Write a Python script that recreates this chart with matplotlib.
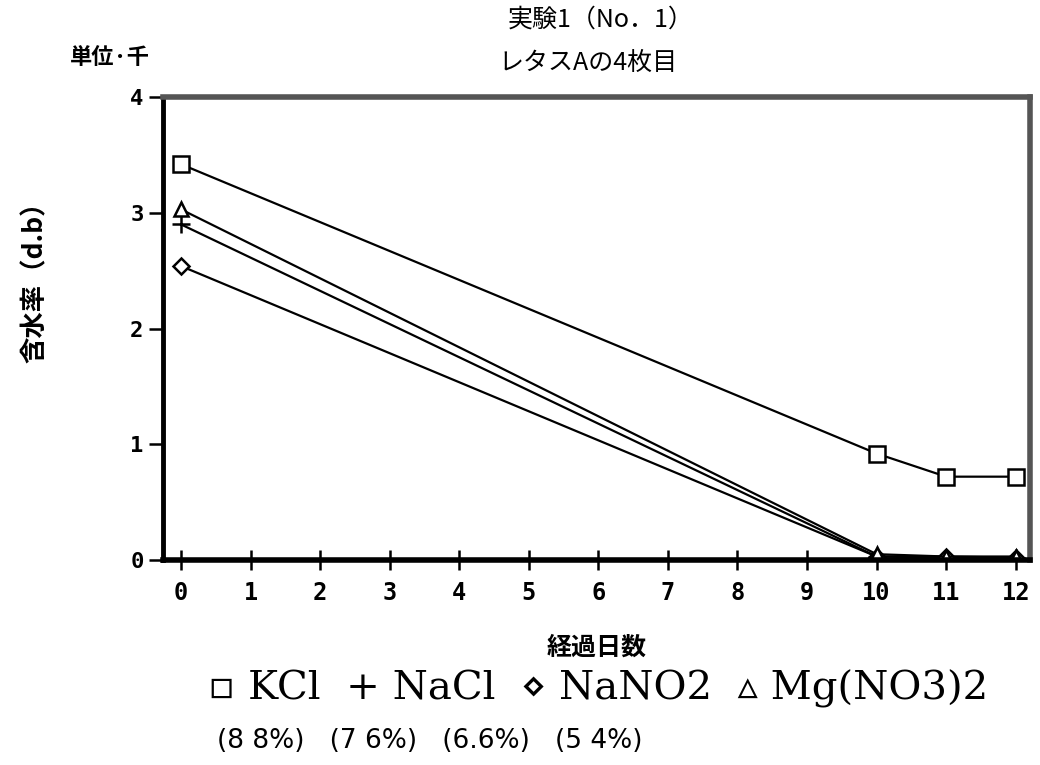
import matplotlib
matplotlib.use("Agg")
import matplotlib.pyplot as plt

plt.rcParams['font.family'] = ['Noto Sans CJK JP', 'DejaVu Sans']

days = [0, 10, 11, 12]
kcl = [3.42, 0.92, 0.72, 0.72]
nacl = [2.90, 0.03, 0.02, 0.02]
nano2 = [2.54, 0.03, 0.03, 0.02]
mgno3 = [3.03, 0.05, 0.03, 0.03]

x_ticks = list(range(0, 13))
y_ticks = [0, 1, 2, 3, 4]

fig = plt.figure(figsize=(10.4, 7.65), dpi=100)
ax = fig.add_axes([0.1567, 0.268, 0.8333, 0.605])

ax.plot(days, kcl, color="black", lw=1.6, marker="s", ms=11, mfc="white", mec="black", mew=1.8)
ax.plot(days, nacl, color="black", lw=1.6, marker="+", ms=13, mew=1.8)
ax.plot(days, nano2, color="black", lw=1.6, marker="D", ms=8, mfc="white", mec="black", mew=1.8)
ax.plot(days, mgno3, color="black", lw=1.6, marker="^", ms=10, mfc="white", mec="black", mew=1.8)

ax.set_xlim(-0.26, 12.2)
ax.set_ylim(0, 4)
ax.set_xticks(x_ticks)
ax.set_yticks(y_ticks)
ax.set_xticklabels([str(v) for v in x_ticks], fontsize=17, fontweight="bold", family="DejaVu Sans Mono")
ax.set_yticklabels([str(v) for v in y_ticks], fontsize=16, fontweight="bold", family="DejaVu Sans Mono")
ax.tick_params(axis="x", direction="inout", length=14, width=1.8, pad=8)
ax.tick_params(axis="y", direction="out", length=10, width=1.8, pad=4)

for side in ["top", "right"]:
    ax.spines[side].set_linewidth(4)
    ax.spines[side].set_color("#555555")
ax.spines["left"].set_linewidth(3.5)
ax.spines["bottom"].set_linewidth(4)

fig.text(0.578, 0.975, "実験1（No．1）", ha="center", va="center", fontsize=18)
fig.text(0.565, 0.918, "レタスAの4枚目", ha="center", va="center", fontsize=18)
fig.text(0.106, 0.925, "単位·千", ha="center", va="center", fontsize=16, fontweight="bold")
fig.text(0.034, 0.64, "含水率（d.b）", ha="center", va="center", rotation=90, fontsize=19, fontweight="bold")
fig.text(0.574, 0.153, "経過日数", ha="center", va="center", fontsize=18, fontweight="bold")

legend_line = "▫ KCl  + NaCl  ⋄ NaNO2  ▵ Mg(NO3)2"
fig.text(0.575, 0.100, legend_line, ha="center", va="center", fontsize=29,
         family=["DejaVu Serif", "DejaVu Sans", "Noto Sans CJK JP"])
fig.text(0.413, 0.031, "(8 8%)   (7 6%)   (6.6%)   (5 4%)", ha="center", va="center",
         fontsize=19, family=["DejaVu Sans", "Noto Sans CJK JP"])

fig.savefig("out.png", dpi=100)
